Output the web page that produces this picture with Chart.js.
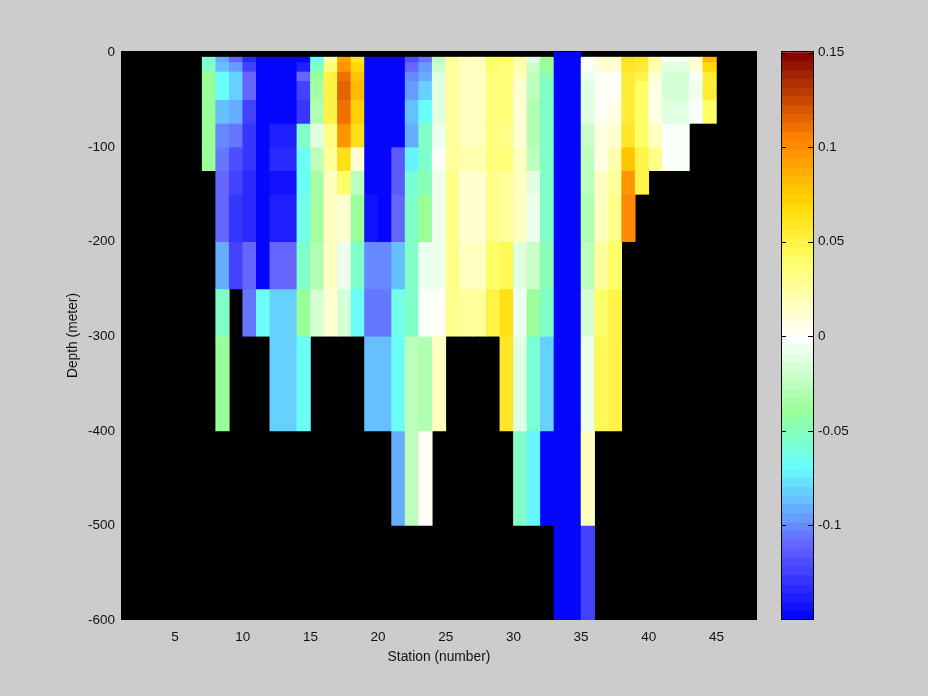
<!DOCTYPE html>
<html>
<head>
<meta charset="utf-8">
<style>
html, body { margin: 0; padding: 0; background: #cccccc; }
#wrap { position: relative; width: 928px; height: 696px; overflow: hidden; }
canvas { position: absolute; left: 0; top: 0; }
</style>
<script src="https://cdn.jsdelivr.net/npm/chart.js@4/dist/chart.umd.min.js"></script>
</head>
<body>
<div id="wrap">
  <canvas id="section" width="928" height="696"></canvas>
  <canvas id="bar" width="928" height="696"></canvas>
</div>
<script>
// depth layer edges (meter)
const depthEdges = [0, -5, -10, -20, -30, -50, -75, -100, -125, -150, -200, -250, -300, -400, -500, -600];
const stationTicks = [5, 10, 15, 20, 25, 30, 35, 40, 45];
const depthTicks = [0, -100, -200, -300, -400, -500, -600];
const colorTicks = [0.15, 0.1, 0.05, 0, -0.05, -0.1];

// first station drawn, each cell spans station .. station + 1
const firstStation = 7;
const N = null;
// one line per station, one value per depth layer, top layer first
const anomaly = [
  [N, -.055, -.055, -.042, -.042, -.042, -.042, -.042],
  [N, -.092, -.085, -.07, -.07, -.085, -.1, -.104, -.108, -.108, -.092, -.056, -.042],
  [N, -.11, -.095, -.08, -.08, -.09, -.105, -.118, -.125, -.127, -.122],
  [N, -.132, -.125, -.112, -.112, -.125, -.127, -.127, -.133, -.135, -.112, -.105],
  [N, -.15, -.15, -.15, -.15, -.15, -.15, -.15, -.15, -.15, -.15, -.07],
  [N, -.15, -.15, -.15, -.15, -.15, -.14, -.133, -.145, -.14, -.108, -.082, -.082],
  [N, -.15, -.15, -.15, -.15, -.15, -.14, -.133, -.145, -.14, -.108, -.082, -.082],
  [N, -.15, -.137, -.112, -.122, -.127, -.056, -.07, -.07, -.062, -.056, -.042, -.07],
  [N, -.07, -.055, -.04, -.034, -.03, -.012, -.024, -.034, -.034, -.03, -.018],
  [N, .02, .035, .05, .05, .05, .03, .024, .018, .017, .017, .012],
  [N, .09, .098, .11, .115, .11, .095, .065, .038, .01, -.006, -.018],
  [N, .058, .066, .078, .082, .072, .062, .01, -.024, -.038, -.055, -.07],
  [N, -.15, -.15, -.15, -.15, -.15, -.15, -.15, -.15, -.145, -.1, -.107, -.088],
  [N, -.15, -.15, -.15, -.15, -.15, -.15, -.15, -.15, -.15, -.1, -.107, -.088],
  [N, -.15, -.15, -.15, -.15, -.15, -.15, -.113, -.113, -.108, -.088, -.065, -.07, -.092],
  [N, -.12, -.112, -.1, -.095, -.085, -.09, -.075, -.06, -.056, -.056, -.052, -.024, -.024],
  [N, -.104, -.098, -.09, -.082, -.07, -.056, -.054, -.048, -.04, -.008, -.004, -.03, .003],
  [N, -.026, -.02, -.012, -.012, -.012, -.006, -.003, -.008, -.008, -.008, .003, .016],
  [N, .025, .025, .027, .027, .027, .027, .027, .032, .032, .03, .03],
  [N, .015, .018, .018, .018, .018, .018, .02, .01, .01, .016, .027],
  [N, .015, .018, .018, .018, .018, .018, .02, .01, .01, .016, .027],
  [N, .04, .038, .036, .036, .036, .036, .035, .03, .03, .038, .05],
  [N, .04, .036, .036, .036, .033, .03, .033, .028, .028, .046, .065, .058],
  [N, .02, .02, .018, .012, .012, .012, .016, .016, .015, -.012, -.008, -.012, -.054],
  [N, -.01, -.02, -.026, -.026, -.03, -.03, -.024, -.012, -.008, -.02, -.04, -.06, -.075],
  [N, -.04, -.042, -.05, -.054, -.054, -.054, -.054, -.054, -.054, -.05, -.056, -.082, -.15],
  [-.15, -.15, -.15, -.15, -.15, -.15, -.15, -.15, -.15, -.15, -.15, -.15, -.15, -.15, -.15],
  [-.15, -.15, -.15, -.15, -.15, -.15, -.15, -.15, -.15, -.15, -.15, -.15, -.15, -.15, -.15],
  [N, 0, -.004, -.008, -.013, -.013, -.02, -.025, -.025, -.03, -.026, -.018, -.008, .016, -.122],
  [N, .01, .01, .003, .003, .003, .006, .006, .016, .016, .025, .04, .045],
  [N, .01, .01, .003, .003, .006, .01, .02, .025, .03, .04, .05, .05],
  [N, .065, .06, .055, .055, .052, .06, .077, .094, .1],
  [N, .06, .055, .05, .042, .04, .042, .048, .05],
  [N, .02, .02, .012, .005, .005, .016, .032],
  [N, -.004, -.01, -.018, -.018, -.012, -.003, -.003],
  [N, -.004, -.01, -.018, -.018, -.012, -.003, -.003],
  [N, .012, .012, -.003, -.009, -.003],
  [N, .08, .07, .056, .052, .04]
];

// colormap anchors: value then r, g, b
const cmapStops = [
  [-.15, 0, 0, 255], [-.11, 102, 102, 255], [-.09, 102, 178, 255], [-.07, 102, 255, 255],
  [-.04, 153, 255, 153], [0, 255, 255, 255], [.04, 255, 255, 102], [.07, 255, 215, 0],
  [.105, 255, 128, 0], [.15, 128, 0, 0]
];
const nBands = 64;
const cMin = -0.15, cMax = 0.15;

function bandColor(i) {
  const v = cMin + (i + 0.5) * (cMax - cMin) / nBands;
  let k = 0;
  while (k < cmapStops.length - 2 && v > cmapStops[k + 1][0]) k++;
  const a = cmapStops[k], b = cmapStops[k + 1];
  const t = (v - a[0]) / (b[0] - a[0]);
  const c = [1, 2, 3].map(j => Math.round(a[j] + (b[j] - a[j]) * t));
  return 'rgb(' + c.join(',') + ')';
}

function valueColor(v) {
  let i = Math.floor((v - cMin) / (cMax - cMin) * nBands);
  i = Math.max(0, Math.min(nBands - 1, i));
  return bandColor(i);
}

const textFont = { family: '"Liberation Sans", Arial, sans-serif', size: 13.5 };
const titleFont = { family: '"Liberation Sans", Arial, sans-serif', size: 13.8 };
const textColor = '#111111';

// one dataset per depth layer
const layerSets = [];
for (let r = 0; r < depthEdges.length - 1; r++) {
  const pts = [];
  anomaly.forEach((col, s) => {
    if (col[r] !== null && col[r] !== undefined) {
      pts.push({ x: firstStation + s + 0.5, y: [depthEdges[r + 1], depthEdges[r]], v: col[r] });
    }
  });
  layerSets.push({
    data: pts,
    backgroundColor: pts.map(p => valueColor(p.v)),
    borderWidth: 0,
    barPercentage: 1,
    categoryPercentage: 1,
    grouped: false
  });
}

const blackPlot = {
  id: 'blackPlot',
  beforeDatasetsDraw(chart) {
    const a = chart.chartArea;
    chart.ctx.fillStyle = '#000000';
    chart.ctx.fillRect(a.left, a.top, a.right - a.left, a.bottom - a.top);
  }
};

new Chart(document.getElementById('section'), {
  type: 'bar',
  data: { datasets: layerSets },
  plugins: [blackPlot],
  options: {
    responsive: false,
    animation: false,
    events: [],
    layout: { padding: { left: 0, right: 171, top: 51, bottom: 0 } },
    plugins: { legend: { display: false }, tooltip: { enabled: false } },
    scales: {
      x: {
        type: 'linear',
        min: 1,
        max: 48,
        offset: false,
        grid: { display: false, drawTicks: false },
        border: { display: false },
        afterFit(s) { s.height = 76; },
        afterBuildTicks(s) { s.ticks = stationTicks.map(v => ({ value: v })); },
        ticks: { autoSkip: false, maxRotation: 0, padding: 9, font: textFont, color: textColor },
        title: { display: true, text: 'Station (number)', font: titleFont, color: textColor, padding: { top: 0, bottom: 31 } }
      },
      y: {
        type: 'linear',
        min: -600,
        max: 1.5,
        grid: { display: false, drawTicks: false },
        border: { display: false },
        afterFit(s) { s.width = 121; },
        afterBuildTicks(s) { s.ticks = depthTicks.map(v => ({ value: v })); },
        ticks: { autoSkip: false, padding: 6, font: textFont, color: textColor },
        title: { display: true, text: 'Depth (meter)', font: titleFont, color: textColor, padding: { top: 65, bottom: 0 } }
      }
    }
  }
});

// colorbar
const bandSets = [];
for (let i = 0; i < nBands; i++) {
  const lo = cMin + i * (cMax - cMin) / nBands;
  const hi = cMin + (i + 1) * (cMax - cMin) / nBands;
  bandSets.push({
    data: [[lo, hi]],
    backgroundColor: bandColor(i),
    borderWidth: 0,
    barPercentage: 1,
    categoryPercentage: 1,
    grouped: false
  });
}

const barFrame = {
  id: 'barFrame',
  afterDatasetsDraw(chart) {
    const a = chart.chartArea, ctx = chart.ctx, yS = chart.scales.y;
    ctx.save();
    ctx.strokeStyle = '#000000';
    ctx.lineWidth = 1;
    ctx.strokeRect(a.left + 0.5, a.top + 0.5, a.right - a.left - 1, a.bottom - a.top - 1);
    colorTicks.forEach(v => {
      const py = Math.round(yS.getPixelForValue(v)) + 0.5;
      ctx.beginPath();
      ctx.moveTo(a.left, py); ctx.lineTo(a.left + 5, py);
      ctx.moveTo(a.right - 6, py); ctx.lineTo(a.right, py);
      ctx.stroke();
    });
    ctx.restore();
  }
};

new Chart(document.getElementById('bar'), {
  type: 'bar',
  data: { labels: [''], datasets: bandSets },
  plugins: [barFrame],
  options: {
    responsive: false,
    animation: false,
    events: [],
    layout: { padding: { left: 781, right: 0, top: 51, bottom: 76 } },
    plugins: { legend: { display: false }, tooltip: { enabled: false } },
    scales: {
      x: { display: false },
      y: {
        position: 'right',
        min: cMin,
        max: 0.1508,
        grid: { display: false, drawTicks: false },
        border: { display: false },
        afterFit(s) { s.width = 114; },
        afterBuildTicks(s) { s.ticks = colorTicks.map(v => ({ value: v })); },
        ticks: { autoSkip: false, padding: 4, font: textFont, color: textColor, callback: v => String(v) }
      }
    }
  }
});
</script>
</body>
</html>
